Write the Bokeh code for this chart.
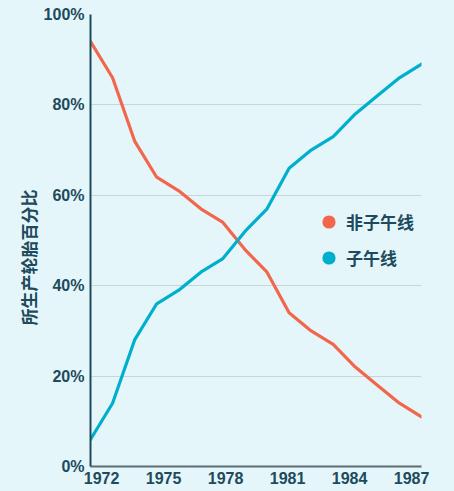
from bokeh.plotting import figure
from bokeh.models import Range1d, FixedTicker, Legend, LegendItem, ColumnDataSource
from bokeh.embed import file_html
from bokeh.resources import INLINE

years = list(range(1972, 1988))
non_radial = [94, 86, 72, 64, 61, 57, 54, 48, 43, 34, 30, 27, 22, 18, 14, 11]
radial = [6, 14, 28, 36, 39, 43, 46, 52, 57, 66, 70, 73, 78, 82, 86, 89]
series_names = ["非子午线", "子午线"]
x_tick_labels = ["1972", "1975", "1978", "1981", "1984", "1987"]
y_ticks = [0, 20, 40, 60, 80, 100]
y_title = "所生产轮胎百分比"

BG = "#E4F6F9"
TEXT = "#1D4A5C"
RED = "#F2674B"
BLUE = "#00AFCB"
GRID = "#C8D5DB"

p = figure(width=454, height=491, output_backend="svg", toolbar_location=None,
           x_range=Range1d(years[0], years[-1]), y_range=Range1d(0, 100),
           min_border_left=90, min_border_right=33, min_border_top=14, min_border_bottom=25)
p.background_fill_color = BG
p.border_fill_color = BG
p.outline_line_color = None

src = ColumnDataSource(dict(year=years, nr=non_radial, r=radial))
p.line("year", "nr", source=src, line_color=RED, line_width=3.2, line_join="round", line_cap="round")
p.line("year", "r", source=src, line_color=BLUE, line_width=3.2, line_join="round", line_cap="round")

# legend-only markers (a single invisible NaN point each)
nan = float("nan")
m1 = p.scatter([nan], [nan], marker="circle", size=13, fill_color=RED, line_color=None)
m2 = p.scatter([nan], [nan], marker="circle", size=13, fill_color=BLUE, line_color=None)

legend = Legend(items=[LegendItem(label=series_names[0], renderers=[m1]),
                       LegendItem(label=series_names[1], renderers=[m2])],
                location=(222, 192), orientation="vertical",
                glyph_width=33, glyph_height=33, label_standoff=1, spacing=3,
                padding=0, margin=0,
                label_text_font="Noto Sans CJK SC", label_text_font_style="bold",
                label_text_font_size="17px", label_text_color=TEXT,
                background_fill_alpha=0, border_line_color=None)
p.add_layout(legend, "center")

# x axis: labels spread between the ends of the axis
n = len(x_tick_labels)
x0 = years[0] + 0.5
x1 = years[-1] - 0.45
pos = [x0 + i * (x1 - x0) / (n - 1) for i in range(n)]
p.xaxis.ticker = FixedTicker(ticks=pos)
p.xaxis.major_label_overrides = {pv: lab for pv, lab in zip(pos, x_tick_labels)}
p.xaxis.axis_line_color = "#5C6D73"
p.xaxis.axis_line_width = 2
p.xaxis.major_tick_out = 0
p.xaxis.major_tick_in = 0
p.xaxis.major_tick_line_color = None
p.xaxis.minor_tick_line_color = None
p.xaxis.major_label_standoff = 5
p.xaxis.major_label_text_font = "Liberation Sans"
p.xaxis.major_label_text_font_style = "bold"
p.xaxis.major_label_text_font_size = "16px"
p.xaxis.major_label_text_color = TEXT
p.xgrid.grid_line_color = None

p.yaxis.ticker = FixedTicker(ticks=y_ticks)
p.yaxis.major_label_overrides = {v: f"{v}%" for v in y_ticks}
p.yaxis.axis_line_color = TEXT
p.yaxis.axis_line_width = 2
p.yaxis.major_tick_out = 0
p.yaxis.major_tick_in = 0
p.yaxis.major_tick_line_color = None
p.yaxis.minor_tick_line_color = None
p.yaxis.major_label_standoff = 6
p.yaxis.major_label_text_font = "Liberation Sans"
p.yaxis.major_label_text_font_style = "bold"
p.yaxis.major_label_text_font_size = "16px"
p.yaxis.major_label_text_color = TEXT
p.yaxis.axis_label = y_title + "\u3000\u3000"
p.yaxis.axis_label_text_font = "Noto Sans CJK SC"
p.yaxis.axis_label_text_font_style = "bold"
p.yaxis.axis_label_text_font_size = "17px"
p.yaxis.axis_label_text_color = TEXT
p.yaxis.axis_label_standoff = 0
p.ygrid.grid_line_color = GRID
p.ygrid.grid_line_width = 1

html = file_html(p, INLINE)
html = html.replace("<head>", "<head><style>body{background:%s;}</style>" % BG, 1)
open("out.html", "w").write(html)
